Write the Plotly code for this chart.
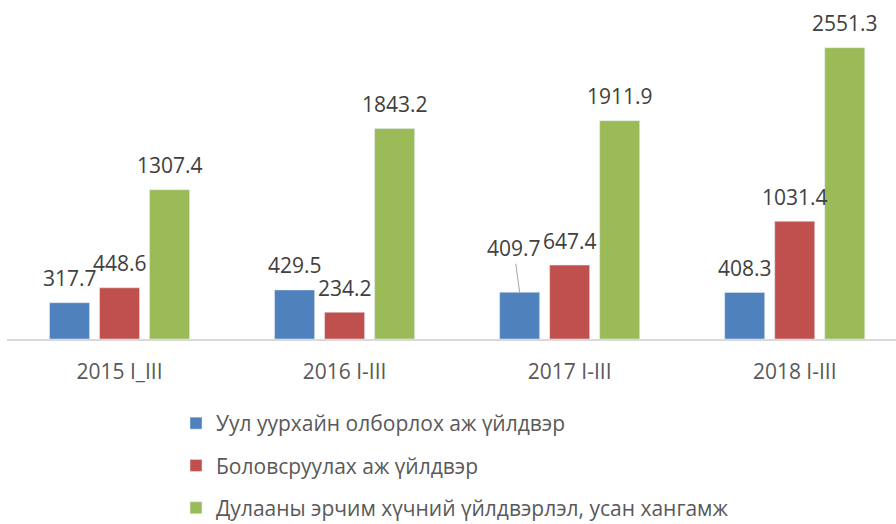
import plotly.graph_objects as go

# Output value by period and sector
periods = ["2015 I_III", "2016 I-III", "2017 I-III", "2018 I-III"]
series_names = [
    "Уул уурхайн олборлох аж үйлдвэр",
    "Боловсруулах аж үйлдвэр",
    "Дулааны эрчим хүчний үйлдвэрлэл, усан хангамж",
]
mining = [317.7, 429.5, 409.7, 408.3]
manufacturing = [448.6, 234.2, 647.4, 1031.4]
utilities = [1307.4, 1843.2, 1911.9, 2551.3]
colors = ["#4F81BD", "#C0504D", "#9BBB59"]

series_values = [mining, manufacturing, utilities]

# Layout geometry (pixels)
W, H = 896, 524
margin_l, margin_r, margin_t, margin_b = 7, 0, 25, 185
x_range = [-0.5, 3.45]
y_range = [0, 2750]
bargap, bargroupgap = 1 / 3, 0.2

plot_w = W - margin_l - margin_r
plot_h = H - margin_t - margin_b
cat_px = plot_w / (x_range[1] - x_range[0])
slot_px = cat_px * (1 - bargap) / len(series_values)

label_font = dict(family="Open Sans", size=21, color="#404040")

fig = go.Figure()
for name, vals, col in zip(series_names, series_values, colors):
    fig.add_trace(go.Bar(
        x=periods, y=vals, name=name, marker_color=col,
        legendgroup=name, hoverinfo="x+y",
    ))

# Value labels above the bars; one label is lifted with a leader line
annotations = []
for si, vals in enumerate(series_values):
    dx = (si - 1) * slot_px
    for ci, v in enumerate(vals):
        if si == 0 and ci == 2:
            annotations.append(dict(
                x=periods[ci], y=v, text=f"{v}", xshift=dx,
                showarrow=True, ax=-6, ay=-44, arrowhead=0, arrowwidth=1,
                arrowcolor="#A6A6A6", standoff=0, font=label_font,
            ))
        else:
            annotations.append(dict(
                x=periods[ci], y=v, text=f"{v}", xshift=dx, yshift=24.5,
                showarrow=False, font=label_font,
            ))

# Legend placed below the axis (paper coords are relative to the plot area)
legend_left_px, legend_top_px = 176, 403
legend_x = (legend_left_px - margin_l) / plot_w
legend_y = ((H - margin_b) - legend_top_px) / plot_h

fig.update_layout(
    width=W, height=H,
    margin=dict(l=margin_l, r=margin_r, t=margin_t, b=margin_b, pad=0,
                autoexpand=False),
    paper_bgcolor="white", plot_bgcolor="white",
    barmode="group", bargap=bargap, bargroupgap=bargroupgap,
    annotations=annotations,
    showlegend=True,
    legend=dict(
        orientation="v", x=legend_x, xanchor="left", y=legend_y, yanchor="top",
        font=dict(family="Open Sans", size=21, color="#595959"),
        tracegroupgap=12, bgcolor="rgba(0,0,0,0)",
    ),
    xaxis=dict(
        range=x_range, showline=True, linecolor="#D9D9D9", linewidth=1.5,
        showgrid=False, ticks="", ticklabelstandoff=13,
        tickfont=dict(family="Open Sans", size=21, color="#595959"),
        fixedrange=True,
    ),
    yaxis=dict(
        range=y_range, visible=False, showgrid=False, zeroline=False,
        fixedrange=True,
    ),
)

fig.write_html("out.html")
